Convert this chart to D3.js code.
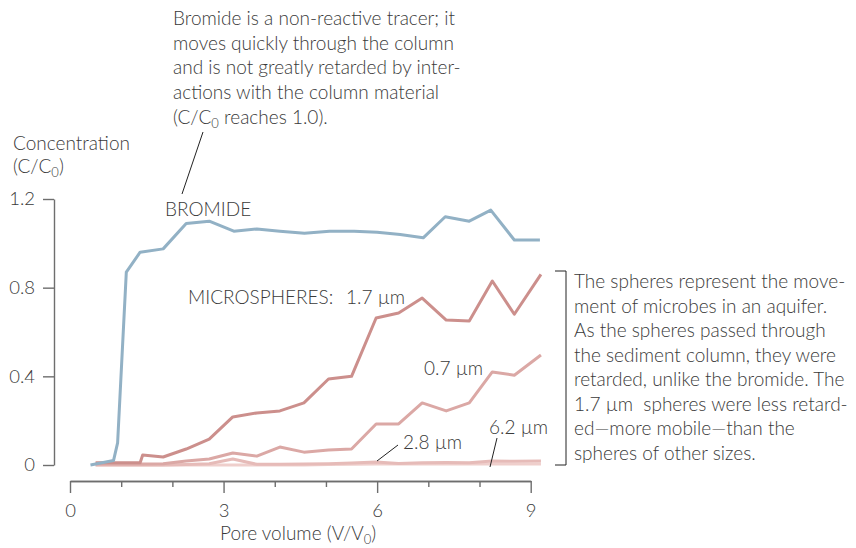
<!DOCTYPE html>
<meta charset="utf-8">
<style>
  body { margin: 0; background: #fff; }
  text { font-family: Lato, "Open Sans", sans-serif; fill: #3a3a3a; font-weight: 300; white-space: pre; }
</style>
<body></body>
<script src="https://d3js.org/d3.v7.min.js"></script>
<script>

var width = 856,
    height = 548;

// pore volume samples (V/V0)
var poreBromide = [0.4, 0.85, 0.93, 1.1, 1.37, 1.82, 2.27, 2.72, 3.2, 3.65, 4.1, 4.58, 5.07, 5.55, 6.0, 6.45, 6.9, 7.33, 7.8, 8.22, 8.68, 9.18];
var poreSpheres = [0.5, 0.95, 1.37, 1.42, 1.82, 2.27, 2.72, 3.18, 3.65, 4.1, 4.57, 5.05, 5.5, 5.98, 6.42, 6.88, 7.35, 7.8, 8.25, 8.68, 9.2];

// C/C0
var bromide = [0.0, 0.02, 0.1, 0.87, 0.96, 0.975, 1.09, 1.1, 1.055, 1.065, 1.055, 1.045, 1.055, 1.055, 1.05, 1.04, 1.025, 1.12, 1.1, 1.15, 1.015, 1.015];
var sphere17 = [0.01, 0.01, 0.01, 0.045, 0.036, 0.072, 0.117, 0.217, 0.235, 0.244, 0.28, 0.388, 0.40, 0.663, 0.686, 0.753, 0.654, 0.65, 0.83, 0.68, 0.86];
var sphere07 = [0.004, 0.004, 0.004, 0.004, 0.006, 0.018, 0.027, 0.054, 0.04, 0.081, 0.058, 0.068, 0.072, 0.185, 0.185, 0.28, 0.244, 0.28, 0.42, 0.405, 0.496];
var sphere28 = [0.0, 0.0, 0.0, 0.0, 0.0, 0.002, 0.006, 0.027, 0.003, 0.003, 0.004, 0.006, 0.009, 0.014, 0.007, 0.01, 0.011, 0.01, 0.018, 0.017, 0.018];
var sphere62 = [0.0, 0.0, 0.0, 0.0, 0.0, 0.0, 0.0, 0.0, 0.0, 0.0, 0.0, 0.002, 0.003, 0.004, 0.004, 0.004, 0.004, 0.004, 0.005, 0.005, 0.005];

var xMajor = [0, 3, 6, 9],
    xMinor = [1, 2, 4, 5, 7, 8],
    yTicks = [0, 0.4, 0.8, 1.2];

var series = [
  { x: poreSpheres, y: sphere62, color: "#efcfcc" },
  { x: poreSpheres, y: sphere28, color: "#e6bbb8" },
  { x: poreSpheres, y: sphere07, color: "#dba8a5" },
  { x: poreSpheres, y: sphere17, color: "#cc8f8c" },
  { x: poreBromide, y: bromide, color: "#92b1c5" }
];

var x = d3.scaleLinear().domain([0, 9]).range([70, 530.7]),
    y = d3.scaleLinear().domain([0, 1.2]).range([465, 199]);

var svg = d3.select("body").append("svg")
    .attr("width", width)
    .attr("height", height);

// axes
var xMinorAxis = svg.append("g")
    .attr("transform", "translate(0,481)")
    .call(d3.axisBottom(x).tickValues(xMinor).tickSize(6).tickSizeOuter(0).tickFormat(""));
var xAxis = svg.append("g")
    .attr("transform", "translate(0,481)")
    .call(d3.axisBottom(x).tickValues(xMajor).tickSize(12).tickSizeOuter(0).tickPadding(11));
var yAxis = svg.append("g")
    .attr("transform", "translate(54,0)")
    .call(d3.axisLeft(y).tickValues(yTicks).tickSize(11).tickSizeOuter(0).tickPadding(8)
      .tickFormat(function(d) { return d === 0 ? "0" : d3.format(".1f")(d); }));

svg.selectAll(".domain, .tick line")
    .attr("stroke", "#6e6e6e")
    .attr("stroke-width", 1.4);
svg.selectAll(".tick text")
    .attr("font-size", 18.5)
    .attr("font-family", "Lato, sans-serif")
    .attr("fill", "#3a3a3a");
xMinorAxis.selectAll("text").remove();

// lines
var line = d3.line()
    .x(function(d) { return x(d[0]); })
    .y(function(d) { return y(d[1]); });

svg.selectAll("path.series")
    .data(series)
  .enter().append("path")
    .attr("class", "series")
    .attr("d", function(s) { return line(d3.zip(s.x, s.y)); })
    .attr("fill", "none")
    .attr("stroke", function(s) { return s.color; })
    .attr("stroke-width", 3)
    .attr("stroke-linejoin", "round");

// labels
var fs = 19;

function label(tx, ty, str) {
  return svg.append("text")
      .attr("x", tx)
      .attr("y", ty)
      .attr("font-size", fs)
      .text(str);
}

function subLabel(tx, ty, before, sub, after) {
  var t = svg.append("text").attr("x", tx).attr("y", ty).attr("font-size", fs);
  t.append("tspan").text(before);
  t.append("tspan").attr("font-size", 13).attr("dy", 4).text(sub);
  t.append("tspan").attr("dy", -4).text(after);
  return t;
}

label(13, 150, "Concentration");
subLabel(13, 173, "(C/C", "0", ")");
subLabel(220, 540, "Pore volume (V/V", "0", ")");

var topNote = ["Bromide is a non-reactive tracer; it",
               "moves quickly through the column",
               "and is not greatly retarded by inter-",
               "actions with the column material"];
topNote.forEach(function(s, i) { label(173, 25 + i * 24.7, s); });
subLabel(173, 124, "(C/C", "0", " reaches 1.0).");

var sideNote = ["The spheres represent the move-",
                "ment of microbes in an aquifer.",
                "As the spheres passed through",
                "the sediment column, they were",
                "retarded, unlike the bromide. The",
                "1.7 \u00b5m  spheres were less retard-",
                "ed\u2014more mobile\u2014than the",
                "spheres of other sizes."];
sideNote.forEach(function(s, i) { label(574, 288 + i * 24.5, s); });

label(165, 216, "BROMIDE");
label(188, 304, "MICROSPHERES:");
label(346, 304, "1.7 \u00b5m");
label(424, 375, "0.7 \u00b5m");
label(403, 449, "2.8 \u00b5m");
label(489, 434, "6.2 \u00b5m");

// leader lines and bracket
var leaders = [
  [[203, 132], [182, 194]],
  [[398, 445], [377, 461]],
  [[497, 438], [490, 467]]
];
svg.selectAll("path.leader")
    .data(leaders)
  .enter().append("path")
    .attr("class", "leader")
    .attr("d", d3.line())
    .attr("fill", "none")
    .attr("stroke", "#222")
    .attr("stroke-width", 1);

svg.append("path")
    .attr("d", d3.line()([[555, 271], [566, 271], [566, 465], [555, 465]]))
    .attr("fill", "none")
    .attr("stroke", "#222")
    .attr("stroke-width", 1);

</script>
